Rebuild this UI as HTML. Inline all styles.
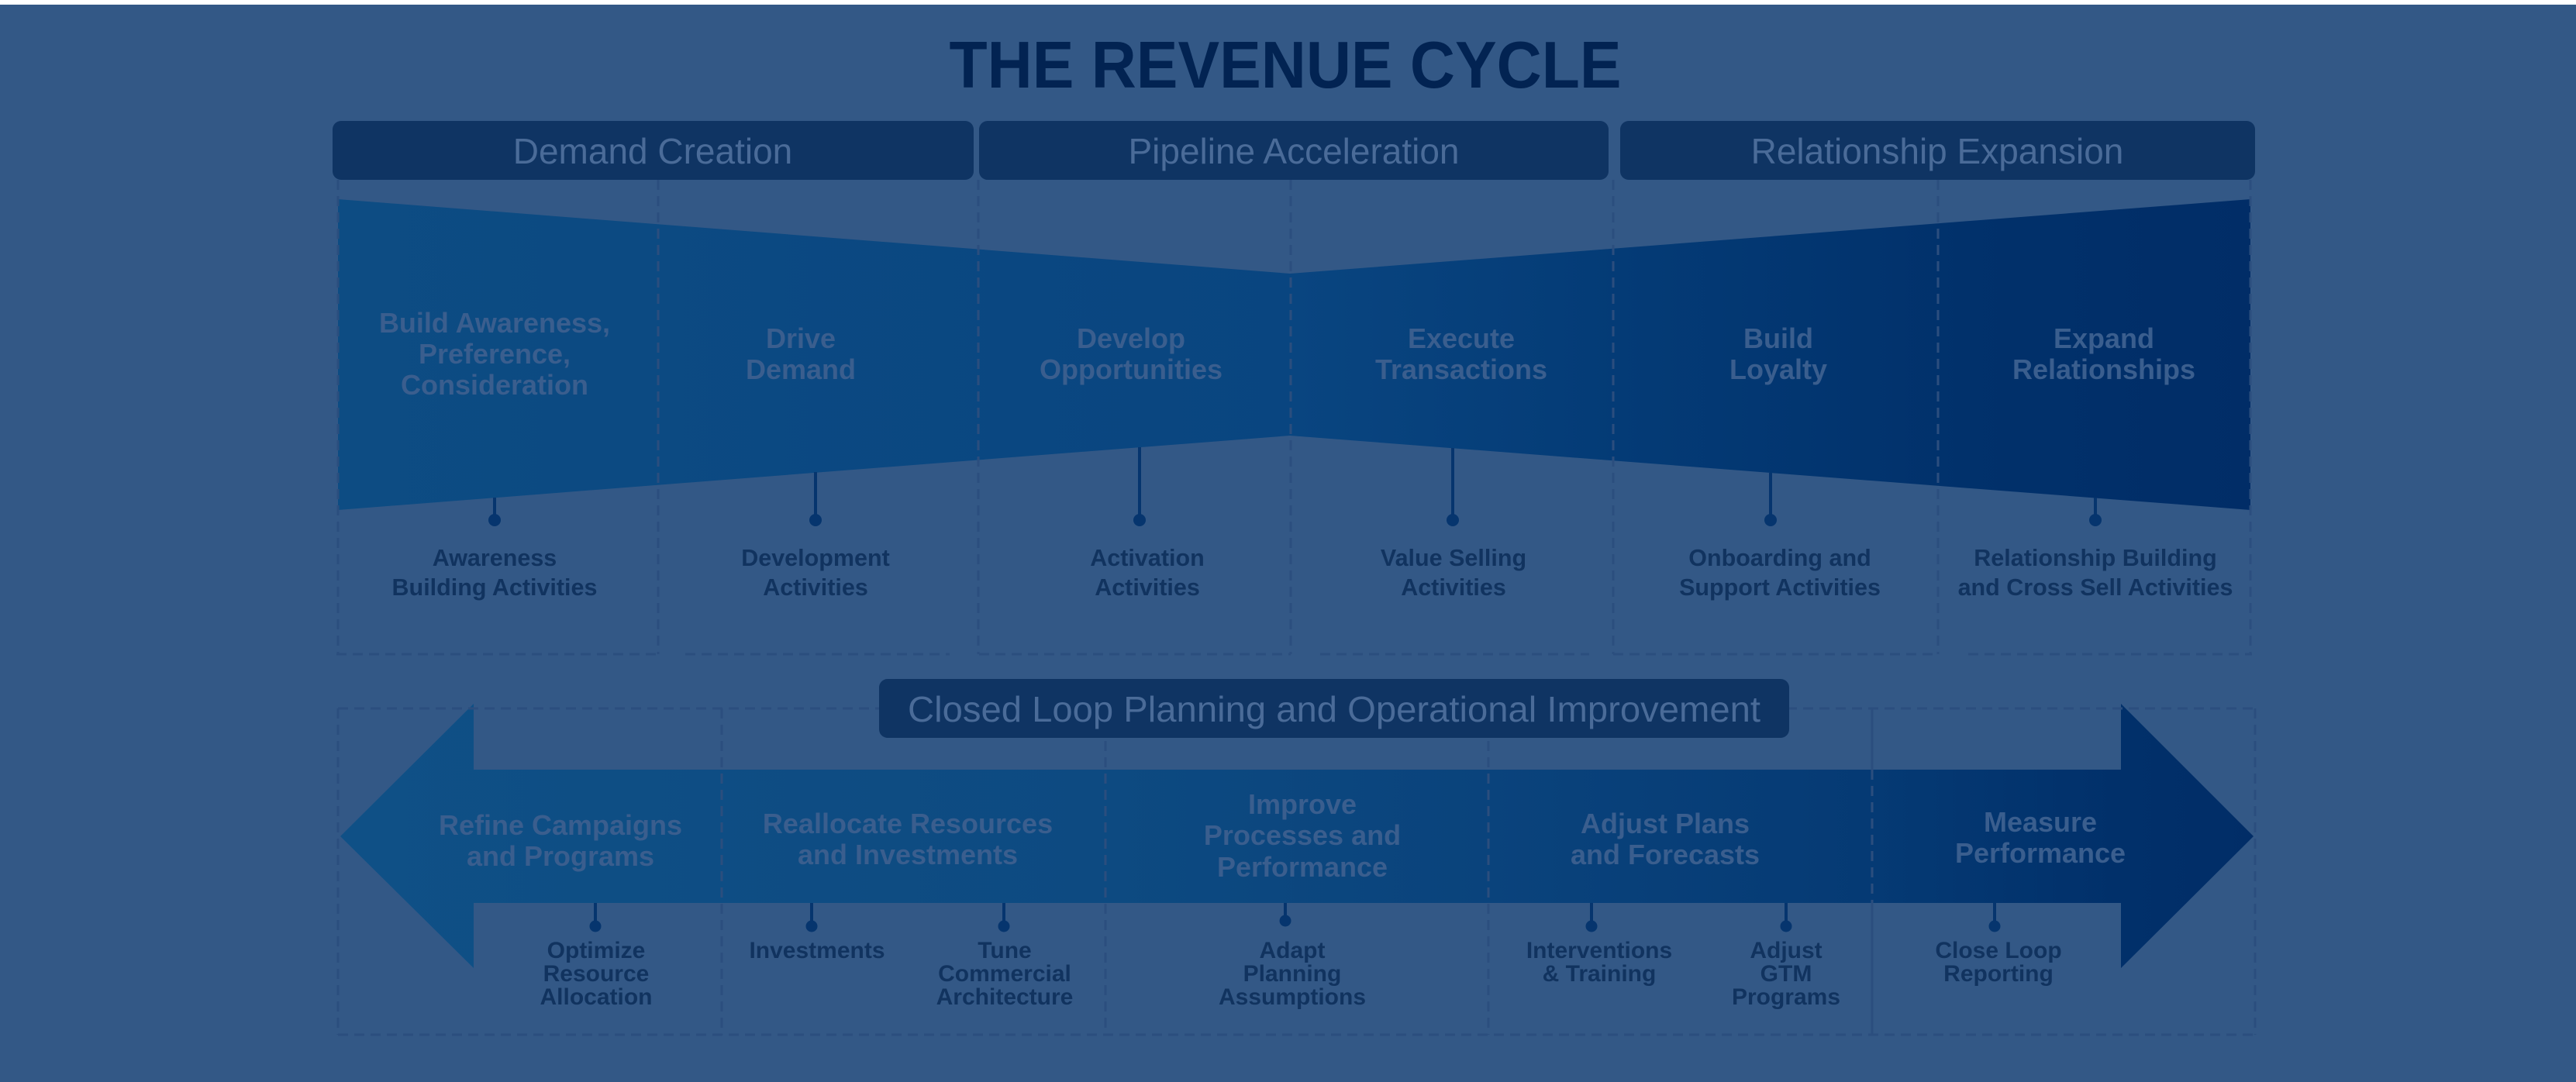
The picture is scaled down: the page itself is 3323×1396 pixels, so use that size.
<!DOCTYPE html>
<html>
<head>
<meta charset="utf-8">
<style>
  html,body{margin:0;padding:0;background:#ffffff;}
  svg{display:block;}
  text{font-family:"Liberation Sans",Arial,sans-serif;}
</style>
</head>
<body>
<svg width="3323" height="1396" viewBox="0 0 3323 1396" xmlns="http://www.w3.org/2000/svg">
  <defs>
    <linearGradient id="gF" gradientUnits="userSpaceOnUse" x1="436" y1="0" x2="2903" y2="0">
      <stop offset="0" stop-color="#0d4c83"/>
      <stop offset="0.5" stop-color="#094580"/>
      <stop offset="0.67" stop-color="#043b76"/>
      <stop offset="0.85" stop-color="#01316b"/>
      <stop offset="1" stop-color="#012d67"/>
    </linearGradient>
    <linearGradient id="gA" gradientUnits="userSpaceOnUse" x1="439" y1="0" x2="2907" y2="0">
      <stop offset="0" stop-color="#0f5086"/>
      <stop offset="0.4" stop-color="#0d4a81"/>
      <stop offset="0.6" stop-color="#0a437c"/>
      <stop offset="0.8" stop-color="#053a74"/>
      <stop offset="0.93" stop-color="#01306a"/>
      <stop offset="1" stop-color="#012d67"/>
    </linearGradient>
  </defs>

  <!-- background -->
  <rect x="0" y="0" width="3323" height="1396" fill="#ffffff"/>
  <rect x="0" y="6" width="3323" height="1390" fill="#335886"/>

  <!-- Title -->
  <text x="1658" y="113" text-anchor="middle" font-size="85" font-weight="bold" fill="#022352" textLength="867" lengthAdjust="spacingAndGlyphs">THE REVENUE CYCLE</text>

  <!-- Funnel -->
  <polygon points="436,257 1664,353 2903,257 2903,658 1664,562 436,658" fill="url(#gF)"/>

  <!-- Arrow -->
  <polygon points="439,1079 611,908 611,993 2736,993 2736,908 2907,1079 2736,1249 2736,1165 611,1165 611,1249" fill="url(#gA)"/>

  <!-- Dashed lines top section -->
  <g stroke="#2b4e7e" stroke-width="3" stroke-dasharray="13 8" fill="none">
    <line x1="436" y1="232" x2="436" y2="844"/>
    <line x1="849" y1="232" x2="849" y2="844"/>
    <line x1="1262" y1="232" x2="1262" y2="844"/>
    <line x1="1665" y1="232" x2="1665" y2="844"/>
    <line x1="2081" y1="232" x2="2081" y2="844"/>
    <line x1="2500" y1="232" x2="2500" y2="844"/>
    <line x1="2903" y1="232" x2="2903" y2="844"/>
    <line x1="434" y1="844" x2="849" y2="844"/>
    <line x1="884" y1="844" x2="1225" y2="844"/>
    <line x1="1263" y1="844" x2="1665" y2="844"/>
    <line x1="1703" y1="844" x2="2050" y2="844"/>
    <line x1="2081" y1="844" x2="2500" y2="844"/>
    <line x1="2539" y1="844" x2="2905" y2="844"/>
  </g>

  <!-- Dashed lines bottom section -->
  <g stroke="#2b4e7e" stroke-width="3" stroke-dasharray="13 8" fill="none">
    <line x1="436" y1="914" x2="2909" y2="914"/>
    <line x1="436" y1="1335" x2="2909" y2="1335"/>
    <line x1="436" y1="914" x2="436" y2="1335"/>
    <line x1="931" y1="914" x2="931" y2="1335"/>
    <line x1="1426" y1="914" x2="1426" y2="1335"/>
    <line x1="1920" y1="914" x2="1920" y2="1335"/>
    <line x1="2415" y1="993" x2="2415" y2="1165"/>
    <line x1="2909" y1="914" x2="2909" y2="1335"/>
  </g>
  <g stroke="#2b4e7e" stroke-width="3" fill="none">
    <line x1="2415" y1="914" x2="2415" y2="993"/>
    <line x1="2415" y1="1165" x2="2415" y2="1335"/>
  </g>

  <!-- Header boxes -->
  <rect x="429" y="156" width="827" height="76" rx="11" fill="#0f3463"/>
  <rect x="1263" y="156" width="812" height="76" rx="11" fill="#0f3463"/>
  <rect x="2090" y="156" width="819" height="76" rx="11" fill="#0f3463"/>
  <rect x="1134" y="876" width="1174" height="76" rx="11" fill="#0f3463"/>

  <g font-size="46" fill="#4a6b98" text-anchor="middle">
    <text x="842" y="211">Demand Creation</text>
    <text x="1669" y="211">Pipeline Acceleration</text>
    <text x="2499" y="211">Relationship Expansion</text>
    <text x="1721" y="931" textLength="1100" lengthAdjust="spacingAndGlyphs">Closed Loop Planning and Operational Improvement</text>
  </g>

  <!-- Funnel labels -->
  <g font-size="36" font-weight="bold" fill="#3a5e8e" text-anchor="middle">
    <text x="638" y="429">Build Awareness,</text>
    <text x="638" y="469">Preference,</text>
    <text x="638" y="509">Consideration</text>
    <text x="1033" y="449">Drive</text>
    <text x="1033" y="489">Demand</text>
    <text x="1459" y="449">Develop</text>
    <text x="1459" y="489">Opportunities</text>
    <text x="1885" y="449">Execute</text>
    <text x="1885" y="489">Transactions</text>
    <text x="2294" y="449">Build</text>
    <text x="2294" y="489">Loyalty</text>
    <text x="2714" y="449">Expand</text>
    <text x="2714" y="489">Relationships</text>
  </g>

  <!-- Funnel stems -->
  <g stroke="#06356e" stroke-width="4">
    <line x1="638" y1="642" x2="638" y2="670"/>
    <line x1="1052" y1="609" x2="1052" y2="670"/>
    <line x1="1470" y1="577" x2="1470" y2="670"/>
    <line x1="1874" y1="578" x2="1874" y2="670"/>
    <line x1="2284" y1="610" x2="2284" y2="670"/>
    <line x1="2703" y1="642" x2="2703" y2="670"/>
  </g>
  <g fill="#06356e">
    <circle cx="638" cy="671" r="8"/>
    <circle cx="1052" cy="671" r="8"/>
    <circle cx="1470" cy="671" r="8"/>
    <circle cx="1874" cy="671" r="8"/>
    <circle cx="2284" cy="671" r="8"/>
    <circle cx="2703" cy="671" r="8"/>
  </g>

  <!-- Activity labels -->
  <g font-size="30.5" font-weight="bold" fill="#11335f" text-anchor="middle">
    <text x="638" y="730">Awareness</text>
    <text x="638" y="768">Building Activities</text>
    <text x="1052" y="730">Development</text>
    <text x="1052" y="768">Activities</text>
    <text x="1480" y="730">Activation</text>
    <text x="1480" y="768">Activities</text>
    <text x="1875" y="730">Value Selling</text>
    <text x="1875" y="768">Activities</text>
    <text x="2296" y="730">Onboarding and</text>
    <text x="2296" y="768">Support Activities</text>
    <text x="2703" y="730">Relationship Building</text>
    <text x="2703" y="768">and Cross Sell Activities</text>
  </g>

  <!-- Arrow labels -->
  <g font-size="36" font-weight="bold" fill="#3a5e8e" text-anchor="middle">
    <text x="723" y="1077">Refine Campaigns</text>
    <text x="723" y="1117">and Programs</text>
    <text x="1171" y="1075">Reallocate Resources</text>
    <text x="1171" y="1115">and Investments</text>
    <text x="1680" y="1050">Improve</text>
    <text x="1680" y="1090">Processes and</text>
    <text x="1680" y="1131">Performance</text>
    <text x="2148" y="1075">Adjust Plans</text>
    <text x="2148" y="1115">and Forecasts</text>
    <text x="2632" y="1073">Measure</text>
    <text x="2632" y="1113">Performance</text>
  </g>

  <!-- Arrow stems -->
  <g stroke="#06356e" stroke-width="4">
    <line x1="768" y1="1165" x2="768" y2="1194"/>
    <line x1="1047" y1="1165" x2="1047" y2="1194"/>
    <line x1="1295" y1="1165" x2="1295" y2="1194"/>
    <line x1="1658" y1="1165" x2="1658" y2="1187"/>
    <line x1="2053" y1="1165" x2="2053" y2="1194"/>
    <line x1="2304" y1="1165" x2="2304" y2="1194"/>
    <line x1="2573" y1="1165" x2="2573" y2="1194"/>
  </g>
  <g fill="#06356e">
    <circle cx="768" cy="1195" r="7.5"/>
    <circle cx="1047" cy="1195" r="7.5"/>
    <circle cx="1295" cy="1195" r="7.5"/>
    <circle cx="1658" cy="1188" r="7.5"/>
    <circle cx="2053" cy="1195" r="7.5"/>
    <circle cx="2304" cy="1195" r="7.5"/>
    <circle cx="2573" cy="1195" r="7.5"/>
  </g>

  <!-- Bottom labels -->
  <g font-size="30" font-weight="bold" fill="#11335f" text-anchor="middle">
    <text x="769" y="1236">Optimize</text>
    <text x="769" y="1266">Resource</text>
    <text x="769" y="1296">Allocation</text>
    <text x="1054" y="1236">Investments</text>
    <text x="1296" y="1236">Tune</text>
    <text x="1296" y="1266">Commercial</text>
    <text x="1296" y="1296">Architecture</text>
    <text x="1667" y="1236">Adapt</text>
    <text x="1667" y="1266">Planning</text>
    <text x="1667" y="1296">Assumptions</text>
    <text x="2063" y="1236">Interventions</text>
    <text x="2063" y="1266">&amp; Training</text>
    <text x="2304" y="1236">Adjust</text>
    <text x="2304" y="1266">GTM</text>
    <text x="2304" y="1296">Programs</text>
    <text x="2578" y="1236">Close Loop</text>
    <text x="2578" y="1266">Reporting</text>
  </g>
</svg>
</body>
</html>
